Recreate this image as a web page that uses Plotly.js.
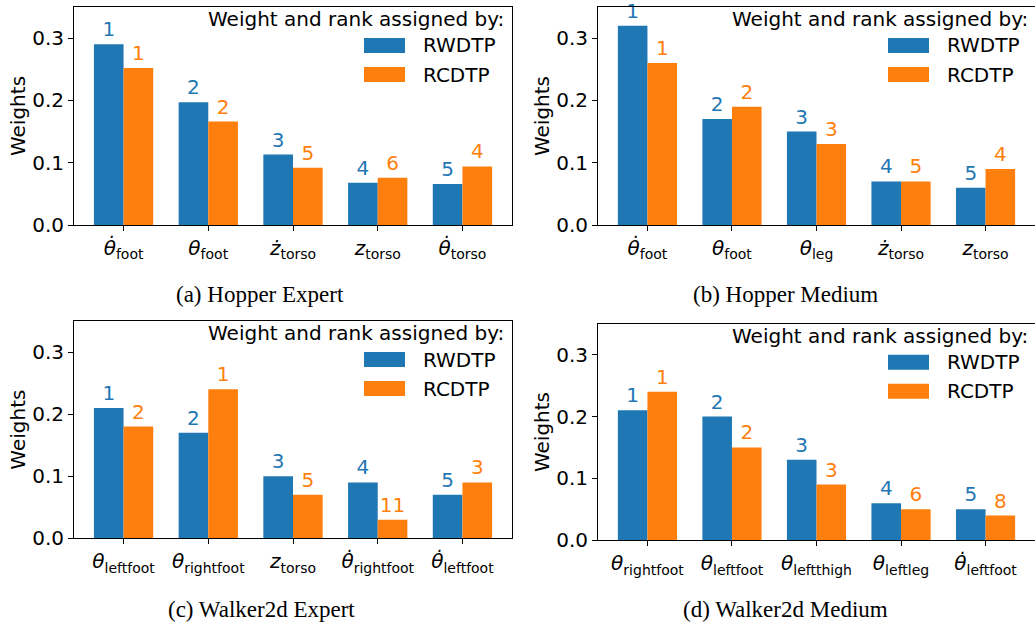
<!DOCTYPE html>
<html>
<head>
<meta charset="utf-8">
<script src="https://cdn.plot.ly/plotly-3.0.1.min.js"></script>
<style>html,body{margin:0;padding:0;background:#fff;}#chart{width:1035px;height:623px;}</style>
</head>
<body>
<div id="chart"></div>
<script>
// ---- data ----
const seriesNames = ['RWDTP', 'RCDTP'];
const legendTitle = 'Weight and rank assigned by:';

const catsA = ['<i>θ̇</i><sub>foot</sub>', '<i>θ</i><sub>foot</sub>', '<i>ż</i><sub>torso</sub>', '<i>z</i><sub>torso</sub>', '<i>θ̇</i><sub>torso</sub>'];
const rwA = [0.290, 0.197, 0.113, 0.068, 0.066];
const rcA = [0.252, 0.166, 0.092, 0.076, 0.094];
const rwRankA = ['1', '2', '3', '4', '5'];
const rcRankA = ['1', '2', '5', '6', '4'];

const catsB = ['<i>θ̇</i><sub>foot</sub>', '<i>θ</i><sub>foot</sub>', '<i>θ</i><sub>leg</sub>', '<i>ż</i><sub>torso</sub>', '<i>z</i><sub>torso</sub>'];
const rwB = [0.32, 0.17, 0.15, 0.07, 0.06];
const rcB = [0.26, 0.19, 0.13, 0.07, 0.09];
const rwRankB = ['1', '2', '3', '4', '5'];
const rcRankB = ['1', '2', '3', '5', '4'];

const catsC = ['<i>θ</i><sub>leftfoot</sub>', '<i>θ</i><sub>rightfoot</sub>', '<i>z</i><sub>torso</sub>', '<i>θ̇</i><sub>rightfoot</sub>', '<i>θ̇</i><sub>leftfoot</sub>'];
const rwC = [0.21, 0.17, 0.10, 0.09, 0.07];
const rcC = [0.18, 0.24, 0.07, 0.03, 0.09];
const rwRankC = ['1', '2', '3', '4', '5'];
const rcRankC = ['2', '1', '5', '11', '3'];

const catsD = ['<i>θ</i><sub>rightfoot</sub>', '<i>θ</i><sub>leftfoot</sub>', '<i>θ</i><sub>leftthigh</sub>', '<i>θ</i><sub>leftleg</sub>', '<i>θ̇</i><sub>leftfoot</sub>'];
const rwD = [0.21, 0.20, 0.13, 0.06, 0.05];
const rcD = [0.24, 0.15, 0.09, 0.05, 0.04];
const rwRankD = ['1', '2', '3', '4', '5'];
const rcRankD = ['1', '2', '3', '6', '8'];

const captions = ['(a) Hopper Expert', '(b) Hopper Medium', '(c) Walker2d Expert', '(d) Walker2d Medium'];

// ---- styling / layout ----
const W = 1035, H = 623;
const BLUE = '#1f77b4', ORANGE = '#ff7f0e';
const FONT = 'DejaVu Sans, sans-serif';
const FS = 20;

// plot rectangles in pixels: [left, top, right, bottom]
const rects = [
  [74, 7, 512, 225],
  [598, 7, 1036, 225],
  [74, 321, 512, 538.3],
  [598, 323.7, 1036, 540.3]
];
const captionPos = [[260, 294], [785, 294], [261, 609], [785, 609]];

const panels = [
  {cats: catsA, rw: rwA, rc: rcA, rwr: rwRankA, rcr: rcRankA, mirrorY: true},
  {cats: catsB, rw: rwB, rc: rcB, rwr: rwRankB, rcr: rcRankB, mirrorY: false},
  {cats: catsC, rw: rwC, rc: rcC, rwr: rwRankC, rcr: rcRankC, mirrorY: true},
  {cats: catsD, rw: rwD, rc: rcD, rwr: rwRankD, rcr: rcRankD, mirrorY: false}
];

const px = x => x / W;
const py = y => 1 - y / H;

const traces = [];
const layout = {
  width: W, height: H,
  margin: {l: 0, r: 0, t: 0, b: 0},
  paper_bgcolor: '#fff', plot_bgcolor: '#fff',
  barmode: 'overlay',
  showlegend: false,
  font: {family: FONT, size: FS, color: '#000'},
  annotations: [], shapes: []
};

panels.forEach((p, i) => {
  const n = i + 1;
  const xa = n === 1 ? 'x' : 'x' + n;
  const ya = n === 1 ? 'y' : 'y' + n;
  const [L, T, R, B] = rects[i];
  [[p.rw, p.rwr, BLUE, -0.35, seriesNames[0]], [p.rc, p.rcr, ORANGE, 0, seriesNames[1]]].forEach(([vals, ranks, col, off, name]) => {
    traces.push({
      type: 'bar', x: p.cats, y: vals, name: name,
      xaxis: xa, yaxis: ya,
      width: 0.35, offset: off,
      marker: {color: col, line: {width: 0}},
      text: ranks, textposition: 'outside',
      outsidetextfont: {family: FONT, size: FS, color: col},
      constraintext: 'none', cliponaxis: false,
      hoverinfo: 'x+y'
    });
  });
  layout['xaxis' + (n === 1 ? '' : n)] = {
    domain: [px(L), Math.min(1, px(R))], anchor: ya,
    type: 'category', range: [-0.585, 4.585],
    showline: true, linecolor: '#000', linewidth: 1, mirror: true,
    ticks: 'outside', ticklen: 5, tickcolor: '#000', tickwidth: 1,
    showgrid: false, zeroline: false,
    tickfont: {family: FONT, size: FS, color: '#000'},
    fixedrange: true
  };
  layout['yaxis' + (n === 1 ? '' : n)] = {
    domain: [py(B), py(T)], anchor: xa,
    range: [0, 0.35],
    tickvals: [0, 0.1, 0.2, 0.3], tickformat: '.1f',
    showline: true, linecolor: '#000', linewidth: 1, mirror: p.mirrorY,
    ticks: 'outside', ticklen: 5, tickcolor: '#000', tickwidth: 1,
    showgrid: false, zeroline: false,
    tickfont: {family: FONT, size: FS, color: '#000'},
    title: {text: 'Weights', font: {family: FONT, size: FS, color: '#000'}, standoff: 1},
    fixedrange: true
  };
  // legend (drawn as patches + text)
  layout.annotations.push({
    xref: 'paper', yref: 'paper', x: px(R - 6), y: py(T + 12),
    xanchor: 'right', yanchor: 'middle', showarrow: false,
    text: legendTitle, font: {family: FONT, size: FS, color: '#000'}
  });
  [[BLUE, seriesNames[0], 31], [ORANGE, seriesNames[1], 60]].forEach(([col, name, dy]) => {
    layout.shapes.push({
      type: 'rect', xref: 'paper', yref: 'paper',
      x0: px(R - 148), x1: px(R - 107), y0: py(T + dy), y1: py(T + dy + 15),
      fillcolor: col, line: {width: 0}
    });
    layout.annotations.push({
      xref: 'paper', yref: 'paper', x: px(R - 91), y: py(T + dy + 7.5),
      xanchor: 'left', yanchor: 'middle', showarrow: false,
      text: name, font: {family: FONT, size: FS, color: '#000'}
    });
  });
  // caption
  layout.annotations.push({
    xref: 'paper', yref: 'paper', x: px(captionPos[i][0]), y: py(captionPos[i][1]),
    xanchor: 'center', yanchor: 'middle', showarrow: false,
    text: captions[i], font: {family: 'Liberation Serif, Times New Roman, serif', size: 23, color: '#000'}
  });
});

Plotly.newPlot('chart', traces, layout, {displayModeBar: false, staticPlot: true});
</script>
</body>
</html>
